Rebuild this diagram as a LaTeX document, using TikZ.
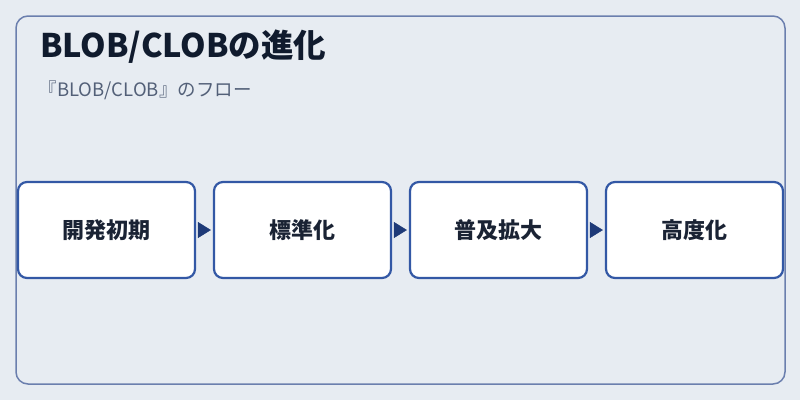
\documentclass[tikz,border=0pt]{standalone}
\usepackage{fontspec}
\setmainfont{Noto Sans CJK JP}
\usetikzlibrary{arrows.meta}
\definecolor{bg}{HTML}{E7ECF2}
\definecolor{frame}{HTML}{6B7FAE}
\definecolor{boxline}{HTML}{3358A5}
\definecolor{arrowc}{HTML}{1E3A78}
\definecolor{titlec}{HTML}{101B2E}
\definecolor{subc}{HTML}{536078}
\definecolor{boxtext}{HTML}{1A2334}
\tikzset{
  stepbox/.style={draw=boxline, line width=2.2bp, fill=white, rounded corners=9bp,
    minimum width=177bp, minimum height=96bp, inner sep=0pt,
    font=\fontsize{22bp}{26bp}\selectfont\bfseries, text=boxtext},
  flow/.style={draw=arrowc, line width=0.5bp, shorten <=2bp, shorten >=2bp,
    -{Triangle[length=13bp,width=16bp]}, fill=arrowc},
}
\newcommand{\boxlabel}[1]{\raisebox{-1.5bp}{#1}}
\begin{document}
\begin{tikzpicture}[x=1bp,y=-1bp]
\useasboundingbox[fill=bg] (0,0) rectangle (800,400);
\draw[draw=frame, line width=1.5bp, rounded corners=12bp] (16,16) rectangle (785,384);
\node[anchor=base west, text=titlec, inner sep=0pt, font=\fontsize{32.5bp}{36bp}\selectfont\bfseries] (title) at (40,57) {BLOB/CLOBの進化};
\node[anchor=base west, text=subc, inner sep=0pt, font=\fontsize{18.5bp}{22bp}\selectfont] (sub) at (38.5,96) {『BLOB/CLOB』のフロー};
\node[stepbox] (b1) at (106.5,230) {\boxlabel{開発初期}};
\node[stepbox] (b2) at (302.5,230) {\boxlabel{標準化}};
\node[stepbox] (b3) at (498.5,230) {\boxlabel{普及拡大}};
\node[stepbox] (b4) at (694.5,230) {\boxlabel{高度化}};
\draw[flow] (b1) -- (b2);
\draw[flow] (b2) -- (b3);
\draw[flow] (b3) -- (b4);
\end{tikzpicture}
\end{document}
